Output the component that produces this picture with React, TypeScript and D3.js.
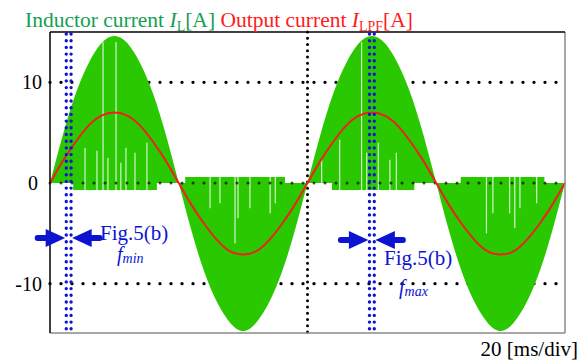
import React from 'react';
import * as d3 from 'd3';

// Sample instants (ms) over two mains periods
const timeMs = [
  0, 1, 2, 3, 4, 5, 6, 7, 8, 9, 10, 11, 12, 13, 14, 15, 16, 17, 18, 19, 20,
  21, 22, 23, 24, 25, 26, 27, 28, 29, 30, 31, 32, 33, 34, 35, 36, 37, 38, 39, 40,
];
// Outer envelope of the switching inductor current I_L [A]
const inductorPeak = [
  0, 4.8, 8.9, 11.9, 13.9, 14.6, 13.9, 11.9, 8.9, 4.8, 0,
  -4.8, -8.9, -11.9, -13.9, -14.7, -13.9, -11.9, -8.9, -4.8, 0,
  4.8, 8.9, 11.9, 13.9, 14.6, 13.9, 11.9, 8.9, 4.8, 0,
  -4.8, -8.9, -11.9, -13.9, -14.7, -13.9, -11.9, -8.9, -4.8, 0,
];
// Filtered output current I_LPF [A]
const outputCurrent = [
  0, 2.2, 4.1, 5.7, 6.7, 7.0, 6.7, 5.7, 4.1, 2.2, 0,
  -2.2, -4.1, -5.7, -6.8, -7.1, -6.8, -5.7, -4.1, -2.2, 0,
  2.2, 4.1, 5.7, 6.7, 7.0, 6.7, 5.7, 4.1, 2.2, 0,
  -2.2, -4.1, -5.7, -6.8, -7.1, -6.8, -5.7, -4.1, -2.2, 0,
];
// Reverse-current valleys of I_L: start ms, end ms, level A
const valleyStart = [1.8, 10.5, 21.9, 31.9];
const valleyEnd = [8.3, 18.25, 28.3, 38.4];
const valleyLevel = [-0.7, 0.6, -0.7, 0.6];
// Ripple gaps where I_L does not reach the valley: ms, A
const gapTime = [
  2.72, 3.65, 4.12, 4.5, 5.13, 5.5, 5.9, 6.6, 7.53,
  12.43, 13.2, 14.37, 14.6, 15.53, 17.1, 17.5,
  21.1, 22.5, 24.2, 24.6, 25.5, 26.4, 26.9,
  33.9, 34.4, 35.7, 36.1, 36.5, 37.8,
];
const gapLevel = [
  3.5, 3.2, 14, 2.5, 14, 2.0, 3.5, 3.0, 4.0,
  -2.5, -2.0, -6.0, -3.5, -2.5, -3.0, -2.0,
  2.5, 4.3, 14, 3.0, 4.0, 2.3, 3.0,
  -5.0, -3.0, -3.0, -4.5, -2.5, -2.0,
];
// Switching-frequency markers (ms)
const markerTime = [1.45, 25.0];
const markerSub = ['min', 'max'];
const markerRef = ['Fig.5(b)', 'Fig.5(b)'];
const yTicks = [10, 0, -10];
const xGrid = [20];

const W = 584;
const H = 361;
const L = 50;
const R = 565;
const T = 32;
const B = 333;

const SERIF = "'Liberation Serif', 'DejaVu Serif', serif";
const GREEN = '#2ac800';
const BLUE = '#0c14d2';

export default function App() {
  const x = d3.scaleLinear().domain([0, 40]).range([L, R]);
  const y = d3.scaleLinear().domain([-15, 15]).range([334, 32]);

  const idx = d3.range(timeMs.length);
  const area = d3
    .area<number>()
    .x((i) => x(timeMs[i]))
    .y0(y(0))
    .y1((i) => y(inductorPeak[i]))
    .curve(d3.curveNatural);
  const line = d3
    .line<number>()
    .x((i) => x(timeMs[i]))
    .y((i) => y(outputCurrent[i]))
    .curve(d3.curveNatural);

  const arrowPath = (cx: number, cy: number, dir: number) => {
    // dir = +1: arrow pointing right (sits left of cx); -1: pointing left
    const tip = cx - dir * 3.5;
    const base = cx - dir * 23;
    const tail = cx - dir * 31;
    const hh = 9;
    const sh = 3;
    return `M${tip},${cy} L${base},${cy - hh} L${base},${cy - sh} L${tail},${cy - sh} A${sh},${sh} 0 0 ${dir > 0 ? 0 : 1} ${tail},${cy + sh} L${base},${cy + sh} L${base},${cy + hh} Z`;
  };

  const arrowY = [238, 240];
  const refPos = [
    [100, 240],
    [384, 265],
  ];
  const subPos = [
    [117, 261],
    [399, 294],
  ];

  const txt = { fontFamily: SERIF };

  return (
    <svg
      width={W}
      height={H}
      style={{ position: 'absolute', left: 0, top: 0, background: '#fff' }}
    >
      {/* ±10 A grid lines (behind the waveforms) */}
      {yTicks
        .filter((v) => v !== 0)
        .map((v) => (
          <line
            key={'g' + v}
            x1={L}
            x2={R}
            y1={y(v)}
            y2={y(v)}
            stroke="#000"
            strokeWidth={3.3}
            strokeLinecap="round"
            strokeDasharray="0 11"
          />
        ))}
      {xGrid.map((t) => (
        <line
          key={'xg' + t}
          x1={x(t)}
          x2={x(t)}
          y1={T}
          y2={B}
          stroke="#000"
          strokeWidth={3}
          strokeLinecap="round"
          strokeDasharray="0 6.25"
        />
      ))}

      {/* inductor current */}
      <path d={area(idx) ?? ''} fill={GREEN} />
      {valleyStart.map((t0, i) => {
        const ya = y(0);
        const yb = y(valleyLevel[i]);
        return (
          <rect
            key={'v' + i}
            x={x(t0)}
            width={x(valleyEnd[i]) - x(t0)}
            y={Math.min(ya, yb)}
            height={Math.abs(yb - ya)}
            fill={GREEN}
          />
        );
      })}
      {gapTime.map((t, i) => {
        const v = gapLevel[i];
        const from = v > 0 ? -0.8 : 0.8;
        return (
          <line
            key={'s' + i}
            x1={x(t)}
            x2={x(t)}
            y1={y(from)}
            y2={y(v)}
            stroke="#fff"
            strokeOpacity={0.8}
            strokeWidth={1.2}
          />
        );
      })}

      {/* zero line */}
      <line
        x1={L}
        x2={R}
        y1={y(0)}
        y2={y(0)}
        stroke="#000"
        strokeWidth={3}
        strokeLinecap="round"
        strokeDasharray="0 11"
        strokeOpacity={0.7}
      />

      {/* output current */}
      <path d={line(idx) ?? ''} fill="none" stroke="#f0201c" strokeWidth={2} />

      {/* frame */}
      <line x1={L} x2={R} y1={B} y2={B} stroke="#8a8a8a" strokeWidth={1.5} />
      <line x1={R} x2={R} y1={T} y2={B} stroke="#8a8a8a" strokeWidth={1.5} />
      <line x1={L} x2={R} y1={T} y2={T} stroke="#000" strokeWidth={1.5} />
      <line x1={L} x2={L} y1={T} y2={B} stroke="#000" strokeWidth={1.5} />

      {/* marker lines, arrows and labels */}
      {markerTime.map((t, i) => {
        const cx = x(t);
        return (
          <g key={'m' + i}>
            {[-2.4, 2.4].map((d) => (
              <line
                key={d}
                x1={cx + d}
                x2={cx + d}
                y1={T + 2}
                y2={B + 2}
                stroke={BLUE}
                strokeWidth={3.4}
                strokeLinecap="round"
                strokeDasharray="0 6.7"
              />
            ))}
            <path d={arrowPath(cx, arrowY[i], 1)} fill={BLUE} />
            <path d={arrowPath(cx, arrowY[i], -1)} fill={BLUE} />
            <text x={refPos[i][0]} y={refPos[i][1]} fontSize={21} fill={BLUE} style={txt}>
              {markerRef[i]}
            </text>
            <text
              x={subPos[i][0]}
              y={subPos[i][1]}
              fontSize={20}
              fill={BLUE}
              fontStyle="italic"
              style={txt}
            >
              f
              <tspan fontSize={14} dy={2}>
                {markerSub[i]}
              </tspan>
            </text>
          </g>
        );
      })}

      {/* y tick labels */}
      {yTicks.map((v) => (
        <text
          key={'t' + v}
          x={v === 0 ? 38 : 42}
          y={y(v) + 7}
          fontSize={20}
          textAnchor="end"
          fill="#000"
          style={txt}
        >
          {v < 0 ? '-' + Math.abs(v) : String(v)}
        </text>
      ))}

      {/* legend */}
      <text x={25} y={27} fontSize={21.5} style={txt}>
        <tspan fill="#14a050">Inductor current </tspan>
        <tspan fill="#14a050" fontStyle="italic">I</tspan>
        <tspan fill="#14a050" fontSize={14} dy={4}>L</tspan>
        <tspan fill="#14a050" dy={-4}>[A] </tspan>
        <tspan fill="#ff1a1a">Output current </tspan>
        <tspan fill="#ff1a1a" fontStyle="italic">I</tspan>
        <tspan fill="#ff1a1a" fontSize={14} dy={4}>LPF</tspan>
        <tspan fill="#ff1a1a" dy={-4}>[A]</tspan>
      </text>

      {/* time scale */}
      <text x={578} y={356} fontSize={21} textAnchor="end" fill="#000" style={txt}>
        20 [ms/div]
      </text>
    </svg>
  );
}
